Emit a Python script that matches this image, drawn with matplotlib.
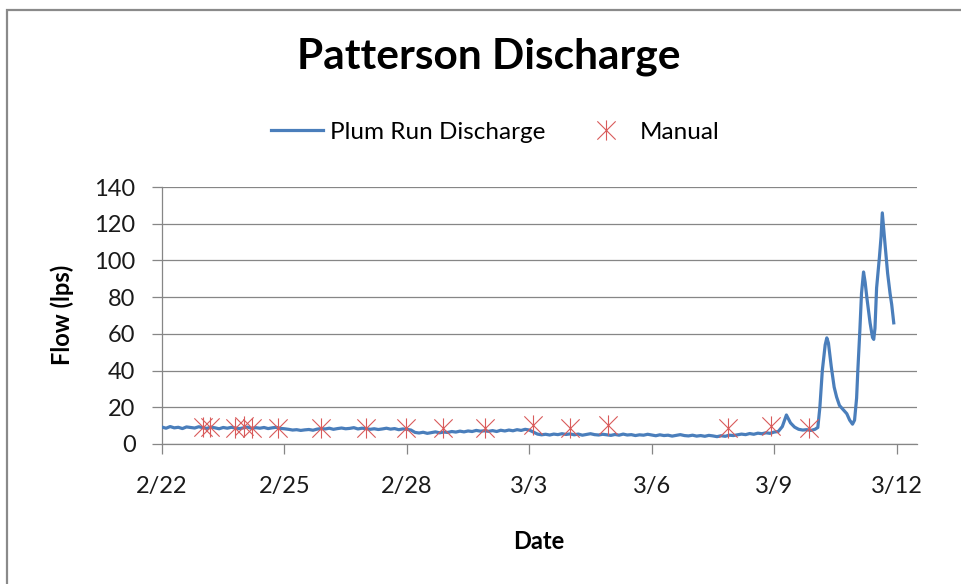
import matplotlib
matplotlib.use("Agg")
import matplotlib.pyplot as plt
from matplotlib.path import Path
from matplotlib.patches import Rectangle
from matplotlib.lines import Line2D

plt.rcParams['font.family'] = ['Lato', 'DejaVu Sans']

# ---- data ----
# baseline series, 0.1-day steps starting 2/22 00:00 (days 0.0 .. 15.9)
base_flow = [
    9.2, 8.6, 9.5, 8.8, 9.1, 8.4, 9.3, 9.0, 8.7, 9.4,
    8.9, 8.5, 9.2, 8.8, 8.3, 9.0, 8.6, 9.1, 8.7, 8.4,
    8.8, 9.2, 8.5, 8.9, 8.6, 9.0, 8.4, 8.8, 9.1, 8.5,
    8.3, 8.0, 7.6, 7.8, 7.4, 7.7, 7.9, 7.5, 8.1, 8.4,
    8.2, 8.6, 8.0, 8.4, 8.7, 8.3, 8.5, 8.9, 8.2, 8.6,
    8.4, 8.0, 8.3, 7.9, 8.2, 8.6, 8.1, 8.4, 7.8, 8.2,
    8.0, 7.6, 6.3, 6.0, 6.4, 5.8, 6.2, 6.6, 6.1, 6.5,
    6.3, 6.8, 6.5, 7.0, 6.6, 7.1, 6.8, 7.4, 7.0, 7.2,
    6.9, 7.3, 6.8, 7.5, 7.1, 7.6, 7.2, 7.8, 7.4, 8.0,
    7.6, 6.5, 5.4, 5.0, 5.3, 4.9, 5.4, 5.1, 5.6, 5.2,
    5.5, 5.0, 5.4, 4.8, 5.2, 5.6, 5.1, 4.9, 5.3, 5.0,
    4.7, 5.2, 4.8, 5.4, 4.9, 5.1, 4.6, 5.0, 4.8, 5.3,
    4.9, 4.5, 5.0, 4.6, 4.8, 4.3, 4.7, 5.1, 4.6, 4.4,
    4.8, 4.3, 4.6, 4.2, 4.7, 4.4, 4.0, 4.5, 4.2, 4.8,
    4.6, 5.0, 5.4, 5.1, 5.7, 5.3, 5.9, 5.6, 6.1, 5.8,
    6.5, 6.8, 9.5, 15.8, 11.5, 9.2, 8.0, 7.6, 7.8, 7.4,
]
base_days = [i / 10 for i in range(len(base_flow))]

# storm section (days since 2/22)
storm_days = [16.0, 16.07, 16.12, 16.18, 16.25, 16.29, 16.33, 16.4, 16.47,
              16.53, 16.6, 16.7, 16.78, 16.85, 16.92, 16.97, 17.02, 17.05,
              17.1, 17.14, 17.19, 17.23, 17.27, 17.35, 17.41, 17.44, 17.47,
              17.51, 17.58, 17.62, 17.65, 17.68, 17.72, 17.78, 17.84, 17.88,
              17.93]
storm_flow = [8.0, 9.0, 20, 40, 54, 57.8, 55, 42, 31,
              25.6, 21, 18.5, 16.5, 13, 10.8, 13, 25, 40,
              62, 82, 93.7, 88, 80, 66, 58, 57, 63,
              85, 102, 113, 125.9, 118, 108, 93, 82, 76,
              66]

flow_days = base_days + storm_days
flow = base_flow + storm_flow

manual_days = [1.01, 1.18, 1.79, 2.01, 2.20, 2.85, 3.89, 5.00, 5.97, 6.89,
               7.91, 9.09, 10.0, 10.93, 13.87, 14.92, 15.85]
manual_flow = [9.4, 9.0, 8.8, 9.6, 8.8, 8.8, 8.8, 8.8, 8.7, 8.5,
               8.7, 10.4, 8.7, 10.2, 8.7, 10.0, 8.7]

tick_days = [0, 3, 6, 9, 12, 15, 18]
tick_labels = ['2/22', '2/25', '2/28', '3/3', '3/6', '3/9', '3/12']
y_ticks = [0, 20, 40, 60, 80, 100, 120, 140]

# ---- figure ----
W, H = 961, 584
fig = plt.figure(figsize=(W / 100, H / 100), dpi=100)
fig.patch.set_facecolor('white')

# outer chart border
fig.patches.append(Rectangle((7 / W, -0.1), 1.2, 1.1 - 10 / H,
                             transform=fig.transFigure, fill=False,
                             edgecolor='#8a8a8a', linewidth=1.6))

ax = fig.add_axes([162 / W, 140 / H, (917 - 162) / W, (444 - 187) / H])

star = Path([(-1, -1), (1, 1), (-1, 1), (1, -1), (0, -1.1), (0, 1.1)],
            [Path.MOVETO, Path.LINETO, Path.MOVETO, Path.LINETO,
             Path.MOVETO, Path.LINETO])

grid_c = '#868686'
ax.plot(flow_days, flow, color='#4A7EBB', lw=2.3, solid_joinstyle='round',
        zorder=3)
ax.plot(manual_days, manual_flow, linestyle='none', marker=star,
        markersize=14.5, markeredgewidth=0.8, markeredgecolor='#D95B5B',
        markerfacecolor='none', zorder=4)

ax.set_xlim(0, 18.5)
ax.set_ylim(0, 140)
ax.set_yticks(y_ticks)
ax.set_xticks(tick_days)
ax.set_xticklabels(tick_labels)
ax.yaxis.grid(True, color=grid_c, lw=0.9)
ax.set_axisbelow(True)
for s in ['top', 'right']:
    ax.spines[s].set_visible(False)
for s in ['left', 'bottom']:
    ax.spines[s].set_color(grid_c)
    ax.spines[s].set_linewidth(0.9)
ax.tick_params(axis='both', direction='out', length=7, width=0.9,
               color=grid_c, labelsize=17, labelcolor='#1a1a1a')
ax.tick_params(axis='x', pad=16)
ax.tick_params(axis='y', pad=12)

fig.text(489 / W, 1 - 68 / H, 'Patterson Discharge', ha='center',
         va='baseline', fontsize=30.5, fontweight='bold', color='black')
fig.text(62 / W, 1 - 315 / H, 'Flow (lps)', ha='center', va='center',
         rotation=90, fontsize=17, fontweight='bold', color='black')
fig.text(539 / W, 1 - 549 / H, 'Date', ha='center', va='baseline',
         fontsize=17, fontweight='bold', color='black')

handles = [Line2D([], [], color='#4A7EBB', lw=2.3),
           Line2D([], [], linestyle='none', marker=star, markersize=14.5,
                  markeredgewidth=0.8, markeredgecolor='#D95B5B',
                  markerfacecolor='none')]
fig.legend(handles, ['Plum Run Discharge', 'Manual'], ncol=2,
           loc='center', bbox_to_anchor=(495 / W, 1 - 132 / H),
           frameon=False, fontsize=17.5, handlelength=2.14,
           handletextpad=0.3, columnspacing=1.45)

fig.savefig('out.png', dpi=100, facecolor='white')
